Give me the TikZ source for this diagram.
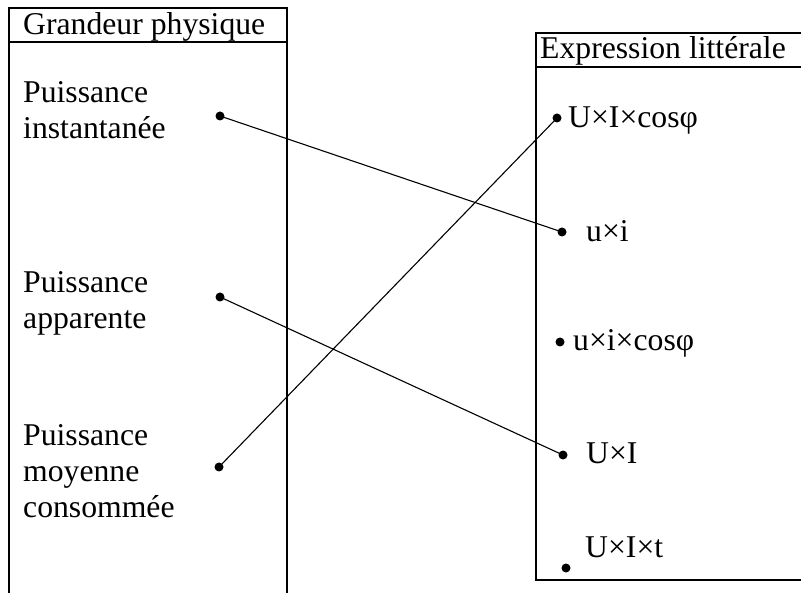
\documentclass[tikz,border=0pt]{standalone}
\usepackage{fontspec}
\setmainfont{Liberation Serif}
\begin{document}
\begin{tikzpicture}[x=1pt,y=-1pt,
    txt/.style={anchor=base west,inner sep=0pt,font=\fontsize{31.7}{36}\selectfont},
    frame/.style={line width=2pt},
    link/.style={line width=1.1pt}]
    \clip (0,0) rectangle (801,593);

    % Left table (open at the bottom)
    \draw [frame] (9,600) -- (9,8) -- (287,8) -- (287,600);
    \draw [frame] (9,42) -- (287,42);
    \node [txt] (hleft) at (23,35) {Grandeur physique};

    % Right table (cut at the right edge)
    \draw [frame] (536,33) rectangle (810,580);
    \draw [frame] (536,67) -- (810,67);
    \node [txt] (hright) at (540,59) {Expression littérale};

    % Physical quantities
    \node [txt] (pinst) at (23,103) {Puissance};
    \node [txt] (pinst2) at (23,139) {instantanée};
    \node [txt] (papp) at (23,293) {Puissance};
    \node [txt] (papp2) at (23,329) {apparente};
    \node [txt] (pmoy) at (23,446) {Puissance};
    \node [txt] (pmoy2) at (23,482) {moyenne};
    \node [txt] (pmoy3) at (23,518) {consommée};

    % Expressions
    \node [txt] (eUIcos) at (568,128) {U×I×cosφ};
    \node [txt] (eui) at (586,242) {u×i};
    \node [txt] (euicos) at (573,351) {u×i×cosφ};
    \node [txt] (eUI) at (586,464) {U×I};
    \node [txt] (eUIt) at (585,558) {U×I×t};

    % Dots
    \coordinate (dinst) at (220,116);
    \coordinate (dapp) at (220,297);
    \coordinate (dmoy) at (219,467);
    \coordinate (dUIcos) at (557,118);
    \coordinate (dui) at (562,232);
    \coordinate (duicos) at (560,342);
    \coordinate (dUI) at (563,455);
    \coordinate (dUIt) at (566,568);
    \foreach \d in {dinst,dapp,dmoy,dUIcos,dui,duicos,dUI,dUIt}
        \fill (\d) circle (4.5pt);

    % Matching lines
    \draw [link] (dinst) -- (dui);
    \draw [link] (dapp) -- (dUI);
    \draw [link] (dmoy) -- (dUIcos);
\end{tikzpicture}
\end{document}
